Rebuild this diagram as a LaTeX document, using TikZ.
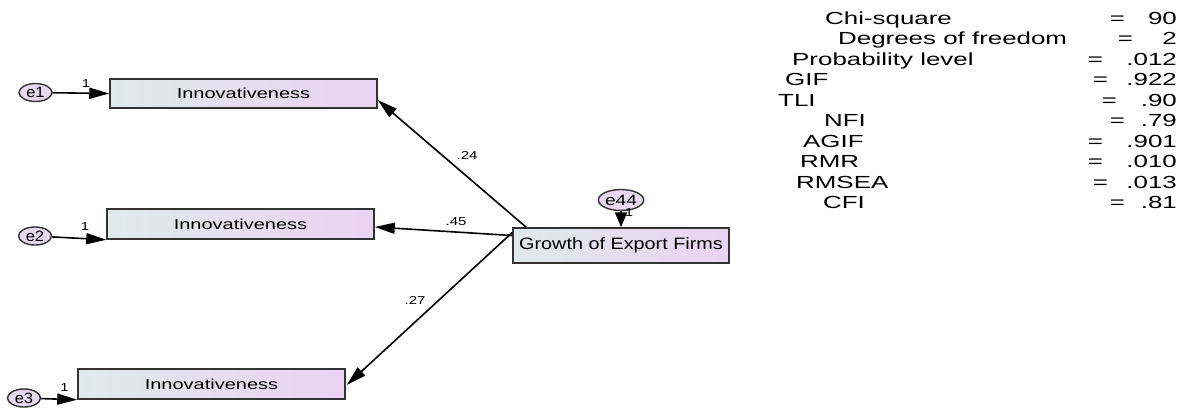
\documentclass[tikz,border=0pt]{standalone}
\usepackage{fontspec}
\setmainfont{Liberation Sans}
\usetikzlibrary{shapes.geometric,arrows.meta,calc}
\definecolor{boxL}{HTML}{DFEAEA}
\definecolor{boxR}{HTML}{EBD3F3}
\definecolor{errF}{HTML}{E7D7EF}
\definecolor{edgec}{HTML}{333333}
\newcommand{\sx}[2]{\scalebox{#1}[1]{#2}}
\begin{document}
\begin{tikzpicture}[x=1pt,y=-1pt,
  obs/.style={draw=edgec, line width=1.5pt, left color=boxL, right color=boxR,
    minimum width=267pt, minimum height=30pt, inner sep=0pt,
    font=\fontsize{14.5}{16}\selectfont},
  err/.style={ellipse, draw=edgec, line width=1.4pt, fill=errF, inner sep=0pt,
    minimum width=33pt, minimum height=18pt, font=\fontsize{15}{16}\selectfont},
  arr/.style={line width=1.6pt, -{Triangle[length=20pt,width=11pt]}},
  lbl/.style={inner sep=0pt, font=\fontsize{11.5}{13}\selectfont},
  stat/.style={inner sep=0pt, anchor=base west, font=\fontsize{17.5}{20}\selectfont},
  eqs/.style={inner sep=0pt, anchor=base, font=\fontsize{17.5}{20}\selectfont},
  val/.style={inner sep=0pt, anchor=base east, font=\fontsize{17.5}{20}\selectfont}]
\useasboundingbox (0,0) rectangle (1184,408);

% observed boxes
\node[obs, minimum height=29pt] (b1) at (243.5,93.5) {\sx{1.38}{Innovativeness}};
\node[obs] (b2) at (240.5,224) {\sx{1.38}{Innovativeness}};
\node[obs] (b3) at (211.5,384) {\sx{1.38}{Innovativeness}};
\node[obs, minimum width=216pt, minimum height=35pt, font=\fontsize{16.5}{18}\selectfont]
  (g) at (621,245.5) {\sx{1.2}{Growth of Export Firms}};

% error terms
\node[err] (e1) at (35.5,92.5) {\sx{1.1}{e1}};
\node[err] (e2) at (35,236) {\sx{1.1}{e2}};
\node[err] (e3) at (24,398) {\sx{1.1}{e3}};
\node[err, minimum height=21pt] (e44) at (621,200) {\resizebox{32pt}{\height}{e44}};

% labels
\node[lbl] (l1) at (86,84) {\sx{1.3}{1}};
\node[lbl] (l2) at (85,227) {\sx{1.3}{1}};
\node[lbl] (l3) at (64.5,388) {\sx{1.3}{1}};
\node[lbl] (l44) at (629,213) {\sx{1.3}{1}};
\node[lbl] (w1) at (467,155) {\sx{1.3}{.24}};
\node[lbl] (w2) at (456,222) {\sx{1.3}{.45}};
\node[lbl] (w3) at (415,300) {\sx{1.3}{.27}};

% connectors
\draw[arr] (e1) -- (b1.west);
\draw[arr] (e2) -- (b2.south west);
\draw[arr] (e3) -- (b3.south west);
\draw[line width=1.6pt, -{Triangle[length=15pt,width=12pt]}] (e44) -- (g.north);
\draw[arr] ($(g.north west)+(14,0)$) -- ($(b1.east)+(0,6.5)$);
\draw[arr] ($(g.west)+(0,-10)$) -- ($(b2.east)+(0,3)$);
\draw[arr] ($(g.west)+(0,-13)$) -- ($(b3.east)+(1,1)$);

% fit statistics
\node[stat] (s1) at (825,24) {\sx{1.48}{Chi-square}};
\node[stat] (s2) at (838,44.5) {\sx{1.48}{Degrees of freedom}};
\node[stat] (s3) at (792,65) {\sx{1.48}{Probability level}};
\node[stat] (s4) at (785,85.5) {\sx{1.48}{GIF}};
\node[stat] (s5) at (778,106) {\sx{1.48}{TLI}};
\node[stat] (s6) at (824,126.5) {\sx{1.48}{NFI}};
\node[stat] (s7) at (803,147) {\sx{1.48}{AGIF}};
\node[stat] (s8) at (800,167.5) {\sx{1.48}{RMR}};
\node[stat] (s9) at (796,188) {\sx{1.48}{RMSEA}};
\node[stat] (s10) at (823,208.5) {\sx{1.48}{CFI}};

\node[eqs] (q1) at (1117.5,24) {\sx{1.48}{=}};
\node[eqs] (q2) at (1125.5,44.5) {\sx{1.48}{=}};
\node[eqs] (q3) at (1095.5,65) {\sx{1.48}{=}};
\node[eqs] (q4) at (1100.5,85.5) {\sx{1.48}{=}};
\node[eqs] (q5) at (1109.5,106) {\sx{1.48}{=}};
\node[eqs] (q6) at (1117.5,126.5) {\sx{1.48}{=}};
\node[eqs] (q7) at (1095.5,147) {\sx{1.48}{=}};
\node[eqs] (q8) at (1095.5,167.5) {\sx{1.48}{=}};
\node[eqs] (q9) at (1100.5,188) {\sx{1.48}{=}};
\node[eqs] (q10) at (1117.5,208.5) {\sx{1.48}{=}};

\node[val] (v1) at (1177,24) {\sx{1.48}{90}};
\node[val] (v2) at (1177,44.5) {\sx{1.48}{2}};
\node[val] (v3) at (1177,65) {\sx{1.48}{.012}};
\node[val] (v4) at (1177,85.5) {\sx{1.48}{.922}};
\node[val] (v5) at (1177,106) {\sx{1.48}{.90}};
\node[val] (v6) at (1177,126.5) {\sx{1.48}{.79}};
\node[val] (v7) at (1177,147) {\sx{1.48}{.901}};
\node[val] (v8) at (1177,167.5) {\sx{1.48}{.010}};
\node[val] (v9) at (1177,188) {\sx{1.48}{.013}};
\node[val] (v10) at (1177,208.5) {\sx{1.48}{.81}};
\end{tikzpicture}
\end{document}
